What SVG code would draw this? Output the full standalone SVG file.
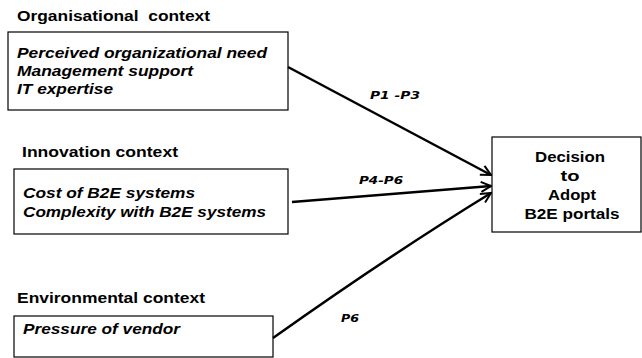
<svg xmlns="http://www.w3.org/2000/svg" width="642" height="358" viewBox="0 0 642 358">
<defs>
<style>
.box{fill:#fff;stroke:#000;stroke-width:1.2}
.title{font-family:"Liberation Sans",Arial,sans-serif;font-weight:bold;font-size:14.5px;fill:#000}
.item{font-family:"Liberation Sans",Arial,sans-serif;font-weight:bold;font-style:italic;font-size:15px;fill:#000}
.dec{font-family:"Liberation Sans",Arial,sans-serif;font-weight:bold;font-size:15px;fill:#000;text-anchor:middle}
.lbl{font-family:"DejaVu Sans",Verdana,sans-serif;font-weight:bold;font-style:italic;font-size:10.5px;fill:#000}
.conn{fill:none;stroke:#000;stroke-width:2.5;marker-end:url(#arr)}
</style>
<marker id="arr" viewBox="0 0 10 10" refX="9" refY="5" markerWidth="5" markerHeight="5" orient="auto" markerUnits="strokeWidth">
<path d="M1,1 L9,5 L1,9" fill="none" stroke="#000" stroke-width="1.6"/>
</marker>
</defs>
<rect width="642" height="358" fill="#fff"/>
<g id="org">
<text class="title" x="17" y="21" xml:space="preserve" textLength="193" lengthAdjust="spacingAndGlyphs">Organisational  context</text>
<rect class="box" x="8" y="32" width="280" height="78"/>
<text class="item" x="17" y="58" textLength="250" lengthAdjust="spacingAndGlyphs">Perceived organizational need</text>
<text class="item" x="17" y="76" textLength="176" lengthAdjust="spacingAndGlyphs">Management support</text>
<text class="item" x="17" y="94" textLength="96" lengthAdjust="spacingAndGlyphs">IT expertise</text>
</g>
<g id="inno">
<text class="title" x="22" y="157" textLength="156" lengthAdjust="spacingAndGlyphs">Innovation context</text>
<rect class="box" x="14" y="169" width="274" height="65"/>
<text class="item" x="23" y="198" textLength="172" lengthAdjust="spacingAndGlyphs">Cost of B2E systems</text>
<text class="item" x="23" y="217" textLength="243" lengthAdjust="spacingAndGlyphs">Complexity with B2E systems</text>
</g>
<g id="env">
<text class="title" x="17" y="303" textLength="188" lengthAdjust="spacingAndGlyphs">Environmental context</text>
<rect class="box" x="14" y="316" width="259" height="41"/>
<text class="item" x="23" y="334" textLength="157" lengthAdjust="spacingAndGlyphs">Pressure of vendor</text>
</g>
<g id="decision">
<rect class="box" x="492" y="137" width="149" height="95"/>
<text class="dec" x="570" y="162" textLength="70" lengthAdjust="spacingAndGlyphs">Decision</text>
<text class="dec" x="570" y="181" textLength="19" lengthAdjust="spacingAndGlyphs">to</text>
<text class="dec" x="572" y="200" textLength="48" lengthAdjust="spacingAndGlyphs">Adopt</text>
<text class="dec" x="572" y="219" textLength="95" lengthAdjust="spacingAndGlyphs">B2E portals</text>
</g>
<g id="connectors">
<path class="conn" d="M288,67 L491,175"/>
<path class="conn" d="M292,202 L491,186"/>
<path class="conn" d="M273,338 Q390,255 491,193"/>
<text class="lbl" x="370" y="99" textLength="50" lengthAdjust="spacingAndGlyphs">P1 -P3</text>
<text class="lbl" x="359" y="184" textLength="44" lengthAdjust="spacingAndGlyphs">P4-P6</text>
<text class="lbl" x="341" y="322" textLength="18" lengthAdjust="spacingAndGlyphs">P6</text>
</g>
</svg>
